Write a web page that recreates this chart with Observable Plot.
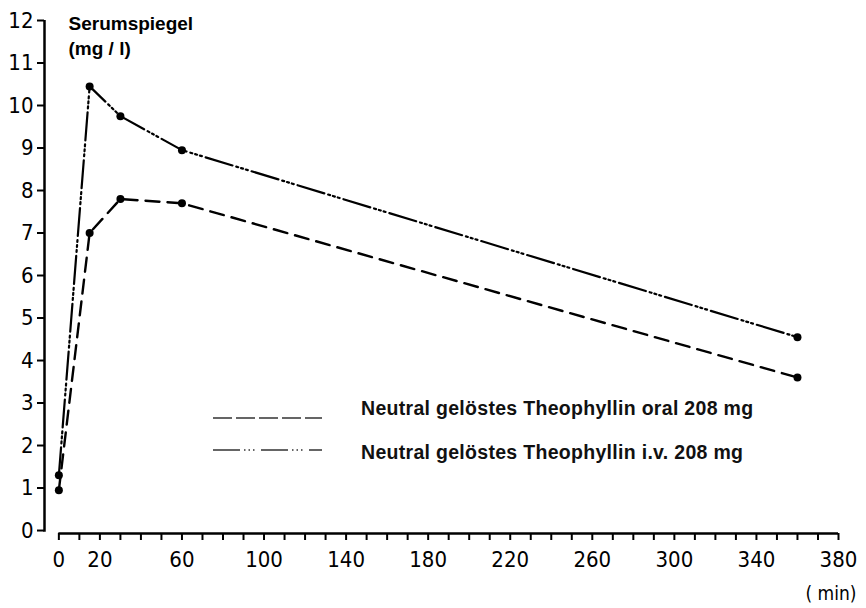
<!DOCTYPE html>
<html>
<head>
<meta charset="utf-8">
<script src="https://cdn.jsdelivr.net/npm/d3@7"></script>
<script src="https://cdn.jsdelivr.net/npm/@observablehq/plot@0.6"></script>
<style>
  html, body { margin: 0; padding: 0; background: #fff; }
  #chart { position: relative; width: 866px; height: 608px; }
</style>
</head>
<body>
<div id="chart"></div>
<script>
// ---- data ----
const times = [0, 15, 30, 60, 360];           // min
const oral = [0.95, 7.0, 7.8, 7.7, 3.6];      // mg/l
const iv = [1.3, 10.45, 9.75, 8.95, 4.55];    // mg/l
const seriesNames = [
  "Neutral gelöstes Theophyllin oral 208 mg",
  "Neutral gelöstes Theophyllin i.v. 208 mg"
];
const yTicks = [0,1,2,3,4,5,6,7,8,9,10,11,12];
const xTickLabels = [0,20,60,100,140,180,220,260,300,340,380];
const xMinorTicks = d3.range(0, 381, 10);
const yTitle = ["Serumspiegel", "(mg / l)"];
const xUnit = "( min)";

const oralData = times.map((t, i) => ({t, v: oral[i]}));
const ivData = times.map((t, i) => ({t, v: iv[i]}));

const xDomain = [-7, 380];
const yDomain = [-0.07, 12];

const numFont = "'Liberation Sans Narrow', 'DejaVu Sans Condensed', sans-serif";
const boldFont = "'Liberation Sans', Arial, sans-serif";

const ORAL_DASH = "14,8";
const IV_DASH = "28,4,2,3,2,3,2,4";

const plot = Plot.plot({
  width: 866,
  height: 608,
  marginLeft: 44,
  marginRight: 28,
  marginTop: 20,
  marginBottom: 75,
  x: {domain: xDomain},
  y: {domain: yDomain},
  style: {background: "#fff", color: "#000", fontFamily: numFont},
  marks: [
    Plot.axisY({ticks: yTicks, tickSize: 7, tickPadding: 4, fontSize: 22, strokeWidth: 2, label: null}),
    Plot.axisX({ticks: xMinorTicks, tickSize: 7, strokeWidth: 2, tickFormat: () => "", label: null}),
    Plot.axisX({ticks: xTickLabels, tickSize: 0, tickPadding: 18, fontSize: 22, label: null}),
    Plot.ruleX([xDomain[0]], {y1: yDomain[0] + 0.03, y2: yDomain[1], strokeWidth: 2.5}),
    Plot.ruleY([yDomain[0]], {x1: 0, x2: xDomain[1], strokeWidth: 2.5}),
    Plot.line(oralData, {x: "t", y: "v", stroke: "#000", strokeWidth: 2.4, strokeDasharray: ORAL_DASH}),
    Plot.line(ivData, {x: "t", y: "v", stroke: "#000", strokeWidth: 2.2, strokeDasharray: IV_DASH}),
    Plot.dot(oralData, {x: "t", y: "v", r: 4, fill: "#000"}),
    Plot.dot(ivData, {x: "t", y: "v", r: 4, fill: "#000"}),
    Plot.text([yTitle.join("\n")], {frameAnchor: "top-left", dx: 24, dy: -8, textAnchor: "start", lineAnchor: "top",
      fontFamily: boldFont, fontWeight: "bold", fontSize: 19, lineHeight: 1.3}),
    Plot.text([xUnit], {frameAnchor: "bottom-right", dx: 18, dy: 53, textAnchor: "end", lineAnchor: "top", fontSize: 19})
  ]
});

document.getElementById("chart").appendChild(plot);

// ---- legend (pixel overlay inside the plot svg) ----
const svg = d3.select(plot);
const lg = svg.append("g");
const legendItems = [
  {name: seriesNames[0], dash: "19,4", yLine: 418, yText: 415},
  {name: seriesNames[1], dash: "27,4,1.5,3,1.5,3,1.5,6.5", yLine: 450, yText: 459}
];
legendItems.forEach(d => {
  lg.append("line").attr("x1", 213).attr("x2", 322).attr("y1", d.yLine).attr("y2", d.yLine)
    .attr("stroke", "#333").attr("stroke-width", 1.5).attr("stroke-dasharray", d.dash);
  lg.append("text").attr("x", 361).attr("y", d.yText).text(d.name)
    .style("font-family", boldFont).style("font-weight", "bold").style("font-size", "19.5px")
    .style("letter-spacing", "0.3px").style("text-anchor", "start").style("fill", "#111");
});
</script>
</body>
</html>
